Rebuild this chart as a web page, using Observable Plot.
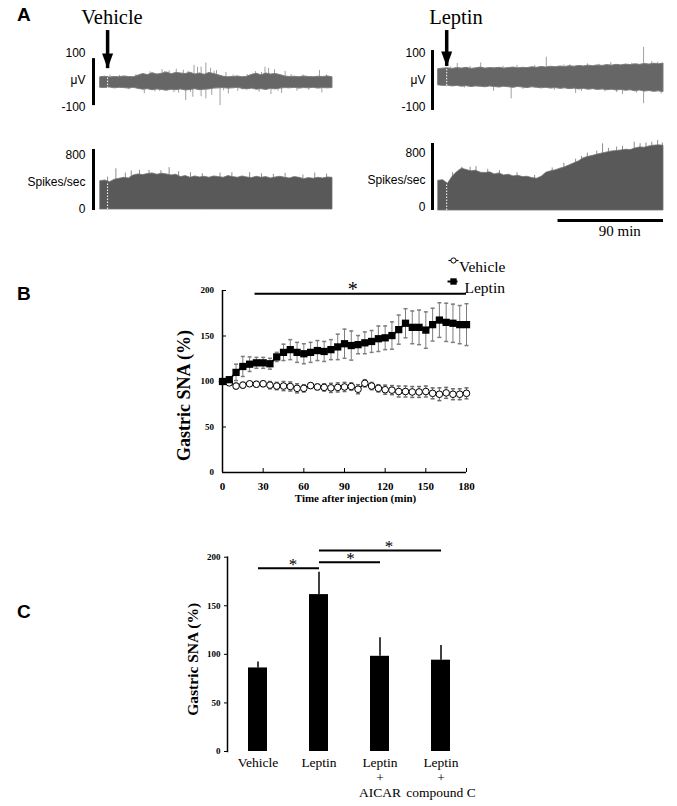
<!DOCTYPE html>
<html><head><meta charset="utf-8">
<script src="https://cdn.jsdelivr.net/npm/d3@7"></script>
<script src="https://cdn.jsdelivr.net/npm/@observablehq/plot@0.6"></script>
<style>
html,body{margin:0;padding:0;background:#fff;}
#fig{position:relative;width:677px;height:806px;overflow:hidden;background:#fff;}
.lbl{position:absolute;white-space:nowrap;color:#000;}
.panel{font-family:"Liberation Sans",Arial,sans-serif;font-weight:bold;font-size:19px;line-height:19px;}
.ttl{font-family:"Liberation Serif","Times New Roman",serif;font-size:20.5px;line-height:20.5px;text-align:center;width:100px;}
</style></head><body><div id="fig"></div>
<script>
// ---------------- Panel A : recordings (time in min relative to injection) ----------------
const traceStep = 4;
const vehStart = -6;   // vehicle traces start time
const lepStart = -7;   // leptin traces start time
const vehUVUpper = [12,14,11,13,12,15,13,12,18,24, 20,27,22,25,30,23,28,26,24,29, 22,26,21,28,24,19,14,12,13,15, 12,14,21,25,19,26,22,24,20,15, 13,14,12,15,13,12,14,13,15,12];
const vehUVLower = [-27,-28,-26,-29,-27,-28,-30,-27,-31,-34, -32,-36,-33,-35,-38,-34,-36,-33,-37,-35, -32,-36,-34,-33,-30,-29,-28,-30,-29,-27, -31,-33,-30,-34,-32,-35,-31,-33,-30,-28, -29,-27,-30,-28,-29,-27,-30,-28,-29,-28];
const vehUVSpikeT = [31,36,40,46,52,56,58,60,64,66, 72,73,76,79,79,83,83,87,88,92, 95,100,102,110,125,128,133,136,138,141, 147,150,160,179,181,
  2,10,18,24,44,48,68,70,90,98, 106,114,118,130,144,155,165,170,185];
const vehUVSpikeV = [-49,32,-42,40,36,-45,42,-47,38,-74, -62,56,49,50,-60,65,-68,45,-55,37, -93,30,-50,-40,33,-44,49,45,-52,40, -48,34,-40,37,-46,
  20,19,-34,21,-40,33,34,-44,34,-38, 20,-35,22,30,-40,22,20,-36,21];
const lepUVUpper = [42,44,45,43,46,44,47,43,45,48, 44,46,45,47,44,46,48,45,47,46, 49,47,50,48,51,49,52,50,53,51, 54,52,55,53,56,54,57,55,58,56, 59,57,60,58,61,59,62,60,63];
const lepUVLower = [-18,-20,-19,-22,-20,-23,-21,-24,-22,-23, -25,-22,-24,-26,-23,-25,-27,-24,-26,-28, -25,-27,-29,-27,-30,-28,-31,-29,-32,-30, -33,-31,-34,-32,-35,-33,-36,-34,-37,-35, -38,-36,-40,-37,-41,-39,-42,-40,-43];
const lepUVSpikeT = [9,29,40,55,60,85,100,110,120,140,150,168,168,175,
  3,15,20,48,65,75,92,105,115,130,135,145,158,162,180,183];
const lepUVSpikeV = [63,65,-40,-68,56,86,58,-48,62,66,-52,123,-86,70,
  50,-28,52,53,-33,55,-36,58,-40,60,-42,-45,64,-47,68,-50];
const vehRate = [420,430,405,440,455,470,460,505,520,510, 525,535,515,530,520,505,515,480,495,470, 490,475,485,470,490,480,470,495,480,470, 490,475,465,485,470,480,460,475,485,470, 460,480,470,450,465,455,470,460,475,470];
const vehRateHairT = [7,20,35,52,70,95,120,150,175,185, 0,15,27,45,60,80,105,130,140,165];
const vehRateHairV = [603,570,580,620,545,540,545,535,540,525, 480,540,580,575,560,530,545,530,520,510];
const lepRate = [440,450,395,500,570,620,600,580,590,560, 555,565,535,550,520,530,505,515,495,500, 480,470,500,560,580,595,620,640,670,700, 730,775,795,810,830,845,860,875,880,890, 900,895,920,935,930,950,960,965,960];
const lepRateHairT = [13,20,35,60,90,110,120,133,145,160,170,180, 5,25,45,75,100,115,128,138,150,165,175,184];
const lepRateHairV = [641,640,610,560,630,760,850,988,940,1012,1000,1037, 560,650,590,520,700,800,880,920,950,990,1010,1000];
const uvTicks = [100, 0, -100];
const uvTickLabels = ["100", "\u03bcV", "-100"];
const rateTicks = [800, 400, 0];
const rateTickLabels = ["800", "Spikes/sec", "0"];
const vehUVBar = {lo: -93, hi: 81};
const lepUVBar = {lo: -111, hi: 111};
const vehRateBar = {lo: -15, hi: 889};
const lepRateBar = {lo: 0, hi: 993};
const vehArrow = {t: 0, top: 185, tip: 44};
const lepArrow = {t: 0, top: 185, tip: 52};
const vehInjUV = {t: 0, lo: -30, hi: 14};
const lepInjUV = {t: 0, lo: -20, hi: 44};
const vehInjRate = {t: 0, lo: 0, hi: 390};
const lepInjRate = {t: 0, lo: 0, hi: 400};
const timeBar = {x1: 95, x2: 185, label: "90 min"};

// ---------------- Panel B ----------------
const timeB = [0,5,10,15,20,25,30,35,40,45,50,55,60,65,70,75,80,85,90,95,100,105,110,115,120,125,130,135,140,145,150,155,160,165,170,175,180];
const leptinB = [100,102,110,116.5,119,120.5,120.5,119.5,127,132, 135,132,130.5,132,134,133,135,138,141.5,139.5, 140.5,142.5,144,147,148,150.5,157,164,159.5,159.5, 156.5,162.5,167.5,165,164,162.5,162.5];
const leptinErrB = [0,2,9,11,8,6,6,6,5,9, 11,11,11,11,11,11,11,14,16,16, 10,12,12,14,13,15,16,16,18,19, 20,18,19,21,21,21,23];
const vehicleB = [100,98.5,95,96,97.5,97,97.5,96,95,95, 94.5,92.5,92.5,95.5,94,93.5,93,93.5,94,94.5, 91.5,98,95,92.5,91,90.5,89,89,88.5,88.5, 89,87,86,87.5,86,86,87];
const vehicleErrB = [0,2,3,3,2,3,3,4,4,5, 5,5,4,3,3,4,5,5,5,4, 5,4,4,4,5,5,6,6,6,6, 6,6,7,6,6,6,6];
const xTicksB = [0,30,60,90,120,150,180];
const yTicksB = [0,50,100,150,200];
const sigB = {x1: 24, x2: 180, y: 196.5, starX: 96, label: "*"};
const seriesNamesB = ["Vehicle", "Leptin"];

// ---------------- Panel C ----------------
const groupsC = ["Vehicle", "Leptin", "Leptin + AICAR", "Leptin + compound C"];
const groupLabelsC = ["Vehicle", "Leptin", "Leptin\n+\nAICAR", "Leptin\n+\ncompound C"];
const meanC = [86, 161.5, 98, 94];
const semC = [6, 23, 19, 15];
const yTicksC = [0,50,100,150,200];
const sigC = [
  {from: "Vehicle", to: "Leptin", y: 188.6},
  {from: "Leptin", to: "Leptin + AICAR", y: 194.8},
  {from: "Leptin", to: "Leptin + compound C", y: 206.9}
];

// ---------------- helpers ----------------
const fig = document.getElementById("fig");
const SANS = '"Liberation Sans", Arial, sans-serif';
const SERIF = '"Liberation Serif", "Times New Roman", serif';
function place(el, left, top) {
  el.style.position = "absolute";
  el.style.left = left + "px";
  el.style.top = top + "px";
  fig.appendChild(el);
}
function label(text, cls, left, top) {
  const d = document.createElement("div");
  d.className = "lbl " + cls;
  d.textContent = text;
  d.style.left = left + "px";
  d.style.top = top + "px";
  fig.appendChild(d);
}
const hline = w => ({draw(ctx) { ctx.moveTo(-w / 2, 0); ctx.lineTo(w / 2, 0); }});
const headSym = {draw(ctx) { ctx.moveTo(0, 0); ctx.lineTo(-5.5, -15); ctx.lineTo(5.5, -15); ctx.closePath(); }};
const series = (arr, start) => arr.map((v, i) => ({t: start + i * traceStep, v}));
const band = (up, lo, start) => up.map((u, i) => ({t: start + i * traceStep, hi: u, lo: lo[i]}));
const pts = (T, V) => T.map((t, i) => ({t, v: V[i]}));

function tracePlot(o) {
  const el = Plot.plot({
    width: o.width, height: o.height,
    marginLeft: o.ml, marginRight: o.mr, marginTop: o.mt, marginBottom: o.mb,
    x: {domain: o.xdom, axis: null}, y: {domain: o.ydom, axis: null},
    style: {fontFamily: SANS, fontSize: "12px", background: "transparent", overflow: "visible", color: "black"},
    marks: o.marks
  });
  place(el, o.left, o.top);
}

function uvMarks(bandData, spikes, bar, arrow, inj, xdom, labelDx, barDx) {
  return [
    Plot.ruleX(spikes, {x: "t", y1: 0, y2: "v", stroke: "#a0a0a0", strokeWidth: 1}),
    Plot.areaY(bandData, {x: "t", y1: "lo", y2: "hi", fill: "#666666", stroke: "#7c7c7c", strokeWidth: 1}),
    Plot.ruleX([inj], {x: "t", y1: "lo", y2: "hi", stroke: "white", strokeWidth: 1, strokeDasharray: "1.5,1.5"}),
    Plot.ruleX([arrow], {x: "t", y1: "top", y2: "tip", stroke: "black", strokeWidth: 3.5}),
    Plot.dot([arrow], {x: "t", y: "tip", symbol: headSym, fill: "black", stroke: "none", r: 5}),
    Plot.ruleX([bar], {x: () => xdom[0], y1: "lo", y2: "hi", dx: barDx, stroke: "black", strokeWidth: 3}),
    Plot.text(uvTicks, {y: d => d, text: (d, i) => uvTickLabels[i], frameAnchor: "left", textAnchor: "end", dx: labelDx, fontSize: 12, fill: "black"})
  ];
}
function rateMarks(rateData, hairs, bar, inj, xdom, labelDx, barDx, labelDy) {
  return [
    Plot.ruleX(hairs, {x: "t", y1: 0, y2: "v", stroke: "#8c8c8c", strokeWidth: 1}),
    Plot.areaY(rateData, {x: "t", y: "v", fill: "#595959", stroke: "#727272", strokeWidth: 0.8}),
    Plot.ruleX([inj], {x: "t", y1: "lo", y2: "hi", stroke: "white", strokeWidth: 1, strokeDasharray: "1.5,1.5"}),
    Plot.ruleX([bar], {x: () => xdom[0], y1: "lo", y2: "hi", dx: barDx, stroke: "black", strokeWidth: 3}),
    Plot.text(rateTicks, {y: d => d, text: (d, i) => rateTickLabels[i], frameAnchor: "left", textAnchor: "end", dx: labelDx, dy: labelDy, fontSize: 12, fill: "black"})
  ];
}

// ---------------- Panel A ----------------
label("A", "panel", 17, 4.5);
label("Vehicle", "ttl", 62, 6.8);
label("Leptin", "ttl", 406, 6.8);

const vehX = [vehStart, vehStart + traceStep * (vehUVUpper.length - 1)];
const lepX = [lepStart, lepStart + traceStep * (lepUVUpper.length - 1)];

tracePlot({left: 0, top: 0, width: 340, height: 120, ml: 100, mr: 8, mt: 28.7, mb: 7.6,
  xdom: vehX, ydom: [-120, 190],
  marks: uvMarks(band(vehUVUpper, vehUVLower, vehStart), pts(vehUVSpikeT, vehUVSpikeV), vehUVBar, vehArrow, vehInjUV, vehX, -15, -7)});
tracePlot({left: 0, top: 120, width: 340, height: 110, ml: 100, mr: 8, mt: 21.5, mb: 21,
  xdom: vehX, ydom: [0, 1000],
  marks: rateMarks(series(vehRate, vehStart), pts(vehRateHairT, vehRateHairV), vehRateBar, vehInjRate, vehX, -15, -7, 0)});
tracePlot({left: 340, top: 0, width: 337, height: 120, ml: 98, mr: 14, mt: 28.7, mb: 7.6,
  xdom: lepX, ydom: [-120, 190],
  marks: uvMarks(band(lepUVUpper, lepUVLower, lepStart), pts(lepUVSpikeT, lepUVSpikeV), lepUVBar, lepArrow, lepInjUV, lepX, -13, -6)});
tracePlot({left: 340, top: 120, width: 337, height: 125, ml: 98, mr: 14, mt: 22.5, mb: 35,
  xdom: lepX, ydom: [0, 1000],
  marks: [
    ...rateMarks(series(lepRate, lepStart), pts(lepRateHairT, lepRateHairV), lepRateBar, lepInjRate, lepX, -13, -6, -3),
    Plot.ruleY([timeBar], {y: () => 0, x1: "x1", x2: "x2", dy: 10, stroke: "black", strokeWidth: 3}),
    Plot.text([timeBar], {x: d => (d.x1 + d.x2) / 2, y: () => 0, text: "label", dx: 9, dy: 21, fontFamily: SERIF, fontSize: 15, fill: "black"})
  ]});

// ---------------- Panel B ----------------
label("B", "panel", 17, 283.5);
const dataB = timeB.map((t, i) => ({t, lep: leptinB[i], lepE: leptinErrB[i], veh: vehicleB[i], vehE: vehicleErrB[i]}));
const bPlot = Plot.plot({
  width: 677, height: 280, marginLeft: 222, marginRight: 211, marginTop: 50, marginBottom: 48,
  x: {domain: [0, 180]}, y: {domain: [0, 200]},
  style: {fontFamily: SERIF, background: "transparent", overflow: "visible", color: "black"},
  marks: [
    Plot.axisX({ticks: xTicksB, tickSize: 4, dy: -4, tickPadding: 10, fontSize: 11, fontWeight: "bold", label: null}),
    Plot.axisY({ticks: yTicksB, tickSize: 4, dx: 4, tickPadding: 8.5, fontSize: 9, fontWeight: "bold", label: null}),
    Plot.ruleY([0], {stroke: "black", strokeWidth: 1.5}),
    Plot.ruleX([0], {stroke: "black", strokeWidth: 1.5}),
    // error bars
    Plot.ruleX(dataB, {x: "t", y1: d => d.lep - d.lepE, y2: d => d.lep + d.lepE, stroke: "#7d7d7d", strokeWidth: 1}),
    Plot.dot(dataB, {x: "t", y: d => d.lep + d.lepE, symbol: hline(4), r: 2, stroke: "#7d7d7d", fill: "none"}),
    Plot.dot(dataB, {x: "t", y: d => d.lep - d.lepE, symbol: hline(4), r: 2, stroke: "#7d7d7d", fill: "none"}),
    Plot.ruleX(dataB, {x: "t", y1: d => d.veh - d.vehE, y2: d => d.veh + d.vehE, stroke: "#6a6a6a", strokeWidth: 1}),
    Plot.dot(dataB, {x: "t", y: d => d.veh + d.vehE, symbol: hline(4), r: 2, stroke: "#6a6a6a", fill: "none"}),
    Plot.dot(dataB, {x: "t", y: d => d.veh - d.vehE, symbol: hline(4), r: 2, stroke: "#6a6a6a", fill: "none"}),
    // series
    Plot.line(dataB, {x: "t", y: "veh", stroke: "black", strokeWidth: 1.2}),
    Plot.dot(dataB, {x: "t", y: "veh", r: 3.3, fill: "white", stroke: "black", strokeWidth: 1}),
    Plot.line(dataB, {x: "t", y: "lep", stroke: "black", strokeWidth: 1.8}),
    Plot.dot(dataB, {x: "t", y: "lep", symbol: "square", r: 4.1, fill: "black", stroke: "none"}),
    // significance
    Plot.ruleY([sigB], {y: "y", x1: "x1", x2: "x2", stroke: "black", strokeWidth: 2}),
    Plot.text([sigB], {x: "starX", y: "y", text: "label", dy: -4.3, fontSize: 20, fill: "black"}),
    // legend
    Plot.dot([seriesNamesB[0]], {frameAnchor: "top-right", dx: -13, dy: -30, symbol: hline(10), r: 3, stroke: "black", strokeWidth: 1.2, fill: "none"}),
    Plot.dot([seriesNamesB[0]], {frameAnchor: "top-right", dx: -13, dy: -30, r: 2.6, fill: "white", stroke: "black", strokeWidth: 1}),
    Plot.text([seriesNamesB[0]], {frameAnchor: "top-right", text: d => d, textAnchor: "start", dx: -7.5, dy: -30, fontSize: 15.5, fill: "black"}),
    Plot.dot([seriesNamesB[1]], {frameAnchor: "top-right", dx: -14, dy: -9, symbol: hline(10), r: 3, stroke: "black", strokeWidth: 2, fill: "none"}),
    Plot.dot([seriesNamesB[1]], {frameAnchor: "top-right", dx: -13, dy: -9, symbol: "square", r: 3.6, fill: "black", stroke: "none"}),
    Plot.text([seriesNamesB[1]], {frameAnchor: "top-right", text: d => d, textAnchor: "start", dx: -2, dy: -9, fontSize: 15.5, fill: "black"}),
    // axis titles
    Plot.text(["Gastric SNA (%)"], {frameAnchor: "left", text: d => d, textAnchor: "middle", rotate: -90, dx: -38, dy: 14, fontSize: 18, fontWeight: "bold", fill: "black"}),
    Plot.text(["Time after injection (min)"], {frameAnchor: "bottom", text: d => d, textAnchor: "middle", dx: 11, dy: 29.7, fontSize: 11, fontWeight: "bold", fill: "black"})
  ]
});
place(bPlot, 0, 240);

// ---------------- Panel C ----------------
label("C", "panel", 17, 601.5);
const dataC = groupsC.map((g, i) => ({g, m: meanC[i], e: semC[i]}));
const cPlot = Plot.plot({
  width: 677, height: 286, marginLeft: 227, marginRight: 206, marginTop: 36.7, marginBottom: 55,
  x: {domain: groupsC, paddingInner: 0.686, paddingOuter: 0.326, align: 0.5},
  y: {domain: [0, 200]},
  style: {fontFamily: SERIF, background: "transparent", overflow: "visible", color: "black"},
  marks: [
    Plot.barY(dataC, {x: "g", y: "m", fill: "black"}),
    Plot.ruleX(dataC, {x: "g", y1: "m", y2: d => d.m + d.e, stroke: "black", strokeWidth: 1.5}),
    Plot.frame({anchor: "left", stroke: "black", strokeWidth: 1.5}),
    Plot.axisY({ticks: yTicksC, tickSize: 3, tickPadding: 4, fontSize: 9, fontWeight: "bold", label: null}),
    Plot.axisX({tickSize: 0, tickPadding: 5, fontSize: 13.5, lineHeight: 1.1, tickFormat: g => groupLabelsC[groupsC.indexOf(g)], label: null}),
    Plot.link(sigC, {x1: "from", x2: "to", y1: "y", y2: "y", stroke: "black", strokeWidth: 2}),
    Plot.text([sigC[0]], {x: "from", y: "y", text: () => "*", dx: 35, dy: -4.2, fontSize: 17, fill: "black"}),
    Plot.text([sigC[1]], {x: "from", y: "y", text: () => "*", dx: 31.5, dy: -4.2, fontSize: 17, fill: "black"}),
    Plot.text([sigC[2]], {x: "from", y: "y", text: () => "*", dx: 70, dy: -4.2, fontSize: 17, fill: "black"}),
    Plot.text(["Gastric SNA (%)"], {frameAnchor: "left", text: d => d, textAnchor: "middle", rotate: -90, dx: -34, dy: 5, fontSize: 15.5, fontWeight: "bold", fill: "black"})
  ]
});
place(cPlot, 0, 520);
</script></body></html>
